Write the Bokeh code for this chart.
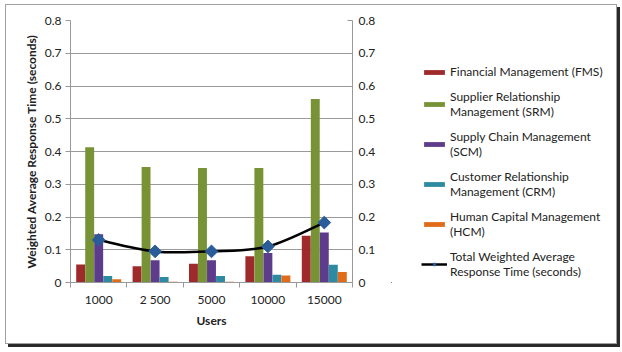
import math
from bokeh.plotting import figure
from bokeh.layouts import row
from bokeh.models import (LinearAxis, FixedTicker, Legend, LegendItem, Range1d, ColumnDataSource)
from bokeh.embed import file_html
from bokeh.resources import INLINE

users = ["1000", "2500", "5000", "10000", "15000"]
user_labels = ["1000", "2 500", "5000", "10000", "15000"]
fms = [0.055, 0.050, 0.057, 0.080, 0.143]
srm = [0.413, 0.353, 0.350, 0.350, 0.560]
scm = [0.147, 0.068, 0.068, 0.090, 0.153]
crm = [0.020, 0.017, 0.020, 0.024, 0.054]
hcm = [0.010, 0.002, 0.002, 0.021, 0.032]
total = [0.130, 0.095, 0.095, 0.110, 0.183]

series_names = ["Financial Management (FMS)",
                "Supplier Relationship\nManagement (SRM)",
                "Supply Chain Management\n(SCM)",
                "Customer Relationship\nManagement (CRM)",
                "Human Capital Management\n(HCM)"]
line_name = "Total Weighted Average\nResponse Time (seconds)"
colors = ["#9E2A2B", "#779336", "#5E3C8C", "#2E8AA0", "#E06C1A"]
marker_color = "#2A5C9A"
y_ticks = [0, 0.1, 0.2, 0.3, 0.4, 0.5, 0.6, 0.7, 0.8]
y_tick_labels = ["0", "0.1", "0.2", "0.3", "0.4", "0.5", "0.6", "0.7", "0.8"]

FONT = "Lato"

p = figure(width=380, height=338, output_backend="svg", toolbar_location=None,
           x_range=Range1d(0, 5), y_range=Range1d(0, 0.8),
           min_border_left=64, min_border_right=34, min_border_top=15, min_border_bottom=61)
p.outline_line_color = None
p.background_fill_color = "white"
p.border_fill_color = "white"

centers = [i + 0.5 for i in range(len(users))]
all_series = [fms, srm, scm, crm, hcm]
offsets = [-0.32, -0.16, 0.0, 0.16, 0.32]
bar_w = 0.158
for vals, off, col in zip(all_series, offsets, colors):
    src = ColumnDataSource(dict(x=[c + off for c in centers], top=vals))
    p.vbar(x="x", top="top", width=bar_w, source=src, fill_color=col, line_color=None)

# smooth line via Catmull-Rom bezier segments through the data points
n = len(centers)
x0s, y0s, x1s, y1s, cx0, cy0, cx1, cy1 = [], [], [], [], [], [], [], []
for i in range(n - 1):
    xa, ya = centers[i], total[i]
    xb, yb = centers[i + 1], total[i + 1]
    xp, yp = (centers[i - 1], total[i - 1]) if i > 0 else (xa, ya)
    xn, yn = (centers[i + 2], total[i + 2]) if i + 2 < n else (xb, yb)
    x0s.append(xa); y0s.append(ya); x1s.append(xb); y1s.append(yb)
    cx0.append(xa + (xb - xp) / 6); cy0.append(ya + (yb - yp) / 6)
    cx1.append(xb - (xn - xa) / 6); cy1.append(yb - (yn - ya) / 6)
p.bezier(x0=x0s, y0=y0s, x1=x1s, y1=y1s, cx0=cx0, cy0=cy0, cx1=cx1, cy1=cy1,
         line_color="black", line_width=2.5)
p.scatter(centers, total, marker="square", size=9, angle=math.pi / 4,
          fill_color=marker_color, line_color=marker_color)

# axes
p.xaxis.ticker = FixedTicker(ticks=centers, minor_ticks=[0, 1, 2, 3, 4, 5])
p.xaxis.major_label_overrides = {c: l for c, l in zip(centers, user_labels)}
p.xaxis.major_tick_line_color = None
p.xaxis.major_tick_in = 0
p.xaxis.major_tick_out = 0
p.xaxis.minor_tick_in = 0
p.xaxis.minor_tick_out = 5
p.xaxis.minor_tick_line_color = "#999999"
p.xaxis.axis_line_color = "#999999"
p.xaxis.axis_label = "Users"
p.xaxis.major_label_standoff = 4

p.yaxis.ticker = FixedTicker(ticks=y_ticks)
p.yaxis.major_label_overrides = {t: l for t, l in zip(y_ticks, y_tick_labels)}
p.yaxis.axis_label = "Weighted Average Response Time (seconds)"
p.yaxis.minor_tick_line_color = None
p.yaxis.major_tick_in = 0
p.yaxis.major_tick_out = 5
p.yaxis.major_tick_line_color = "#999999"
p.yaxis.axis_line_color = "#999999"
p.yaxis.major_label_standoff = 4

ra = LinearAxis(ticker=FixedTicker(ticks=y_ticks))
ra.major_label_overrides = {t: l for t, l in zip(y_ticks, y_tick_labels)}
ra.minor_tick_line_color = None
ra.major_tick_in = 5
ra.major_tick_out = 0
ra.major_tick_line_color = "#999999"
ra.axis_line_color = "#999999"
ra.major_label_standoff = 6
p.add_layout(ra, "right")

for ax in [p.xaxis[0], p.yaxis[0], ra]:
    ax.major_label_text_font = FONT
    ax.major_label_text_font_size = "12px"
    ax.major_label_text_color = "#222222"
    ax.axis_label_text_font = FONT
    ax.axis_label_text_font_size = "12px"
    ax.axis_label_text_font_style = "bold"
    ax.axis_label_text_color = "#222222"
p.xaxis.axis_label_standoff = 3
p.yaxis.axis_label_standoff = 3

p.xgrid.visible = False
p.ygrid.ticker = FixedTicker(ticks=y_ticks)
p.ygrid.grid_line_color = "#9a9a9a"

# legend panel as a separate figure whose data lie outside its visible range
p2 = figure(width=230, height=338, output_backend="svg", toolbar_location=None,
            x_range=Range1d(100, 101), y_range=Range1d(100, 101),
            min_border_left=5, min_border_right=0, min_border_top=15, min_border_bottom=61)
p2.axis.visible = False
p2.grid.visible = False
p2.outline_line_color = None
p2.border_fill_color = "white"
p2.background_fill_color = "white"
leg_rs = []
for vals, col in zip(all_series, colors):
    leg_rs.append(p2.vbar(x=centers, top=vals, width=bar_w, fill_color=col, line_color=None))
lr = p2.line(x=centers, y=total, line_color="black", line_width=2.5)
lm = p2.scatter(x=centers, y=total, marker="square", size=7, angle=math.pi / 4,
                fill_color=marker_color, line_color=marker_color)
items = [LegendItem(label=nm, renderers=[r]) for nm, r in zip(series_names, leg_rs)]
items.append(LegendItem(label=line_name, renderers=[lr, lm]))
legend = Legend(items=items, location=(30, 3), orientation="vertical",
                glyph_width=26, glyph_height=6, spacing=10, padding=0, margin=0,
                label_text_font=FONT, label_text_font_size="12px", label_text_color="#222222",
                label_standoff=3, border_line_color=None, background_fill_alpha=0)
p2.add_layout(legend, "center")

layout = row(p, p2, margin=(5, 0, 0, 6),
             styles={"box-shadow": "0 0 0 1px #a0a0a0, 3px 3px 0 1px #2a2a2a"})

open("out.html", "w").write(file_html(layout, INLINE))
